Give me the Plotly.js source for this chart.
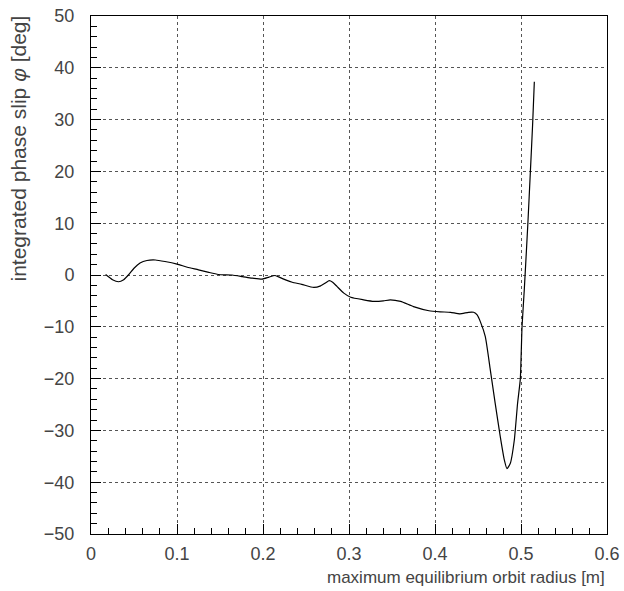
<!DOCTYPE html>
<html>
<head>
<meta charset="utf-8">
<script src="https://cdn.plot.ly/plotly-3.0.1.min.js"></script>
<style>html,body{margin:0;padding:0;background:#fff;}</style>
</head>
<body>
<div id="chart" style="width:624px;height:591px;"></div>
<script>
// radius [m]
const radius = [0.017,0.025,0.032,0.038,0.044,0.050,0.057,0.065,0.075,0.086,0.100,0.112,0.125,0.137,0.148,0.164,0.176,0.187,0.199,0.207,0.214,0.220,0.227,0.234,0.245,0.259,0.267,0.273,0.277,0.281,0.286,0.294,0.302,0.317,0.329,0.340,0.348,0.360,0.375,0.393,0.406,0.418,0.429,0.439,0.445,0.449,0.4527,0.4585,0.4643,0.470,0.4759,0.4806,0.4837,0.4875,0.4922,0.496,0.4992,0.5012,0.5038,0.508,0.511,0.5135,0.5155];
// integrated phase slip [deg]
const phaseSlip = [0.1,-0.9,-1.3,-0.9,0.1,1.3,2.3,2.8,2.9,2.6,2.1,1.5,1.0,0.5,0.1,0.0,-0.3,-0.6,-0.8,-0.4,-0.1,-0.5,-1.0,-1.4,-1.8,-2.4,-2.1,-1.5,-1.1,-1.4,-2.2,-3.5,-4.3,-4.8,-5.1,-5.0,-4.8,-5.1,-6.1,-6.9,-7.1,-7.2,-7.5,-7.2,-7.2,-7.7,-9.0,-11.9,-18.3,-24.8,-31.2,-35.7,-37.4,-36.4,-31.9,-24.8,-20.1,-10,-2.9,10,20.3,29,37.3];

const xTickVals = [0, 0.1, 0.2, 0.3, 0.4, 0.5, 0.6];
const xTickText = ['0', '0.1', '0.2', '0.3', '0.4', '0.5', '0.6'];

const xTitle = 'maximum equilibrium orbit radius [m]';
const yTitle = 'integrated phase slip <i>φ</i> [deg]';

const fam = 'Liberation Sans, DejaVu Sans, sans-serif';
const tickFont = {family: fam, size: 18, color: '#444'};

const trace = {
  x: radius, y: phaseSlip, type: 'scatter', mode: 'lines',
  line: {color: '#000', width: 1.2, shape: 'spline', smoothing: 0.5},
  hoverinfo: 'skip'
};

const axisCommon = {
  showline: true, linecolor: '#000', linewidth: 1, mirror: true,
  ticks: 'inside', ticklen: 10, tickcolor: '#000', tickwidth: 1,
  showgrid: true, gridcolor: '#555', griddash: 'dot', gridwidth: 1,
  zeroline: false, tickfont: tickFont
};

const layout = {
  width: 624, height: 591,
  margin: {l: 91, r: 17, t: 16, b: 57},
  paper_bgcolor: '#fff', plot_bgcolor: '#fff',
  showlegend: false,
  font: tickFont,
  xaxis: Object.assign({}, axisCommon, {
    range: [0, 0.6], tickmode: 'array', tickvals: xTickVals, ticktext: xTickText,
    ticklabelstandoff: 3,
    minor: {dtick: 0.02, tick0: 0, ticks: 'inside', ticklen: 6, tickcolor: '#000', showgrid: false}
  }),
  yaxis: Object.assign({}, axisCommon, {
    range: [-50, 50], dtick: 10, tick0: 0,
    ticklabelstandoff: 12,
    minor: {dtick: 2, ticks: 'inside', ticklen: 6, tickcolor: '#000', showgrid: false}
  }),
  annotations: [
    {text: xTitle, xref: 'paper', yref: 'paper', x: 1, y: 0, xanchor: 'right', yanchor: 'top',
     yshift: -32, showarrow: false, font: {family: fam, size: 17, color: '#444'}},
    {text: yTitle, xref: 'paper', yref: 'paper', x: 0, y: 1, xanchor: 'left', yanchor: 'top',
     xshift: -87, yshift: 2, textangle: -90, showarrow: false, font: {family: fam, size: 21, color: '#444'}}
  ]
};

Plotly.newPlot('chart', [trace], layout, {staticPlot: true});
</script>
</body>
</html>
